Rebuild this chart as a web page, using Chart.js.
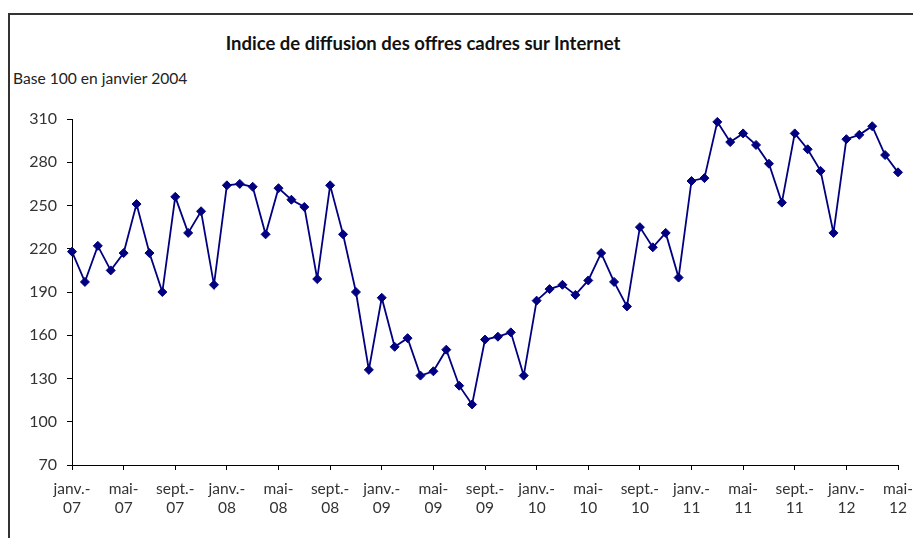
<!DOCTYPE html>
<html lang="fr">
<head>
<meta charset="utf-8">
<title>Indice de diffusion des offres cadres sur Internet</title>
<script src="https://cdn.jsdelivr.net/npm/chart.js@4.4.1/dist/chart.umd.min.js"></script>
<style>
  html, body { margin: 0; padding: 0; background: #fff; }
  #wrap { position: relative; width: 913px; height: 538px; overflow: hidden; font-family: Lato, 'Open Sans', sans-serif; color: #222; }
  #frame { position: absolute; left: 8px; top: 13px; width: 920px; height: 540px; border-top: 2px solid #333; border-left: 2px solid #333; }
  #title { position: absolute; left: 0; width: 846px; top: 32px; text-align: center; font-weight: bold; font-size: 18.5px; color: #111; }
  #subtitle { position: absolute; left: 13px; top: 69px; font-size: 15.6px; }
  #chart { position: absolute; left: 0; top: 0; }
</style>
</head>
<body>
<div id="wrap">
  <div id="frame"></div>
  <div id="title">Indice de diffusion des offres cadres sur Internet</div>
  <div id="subtitle">Base 100 en janvier 2004</div>
  <canvas id="chart" width="913" height="538"></canvas>
</div>
<script>
  // months from janv. 2007 to mai 2012
  const monthNames = ['janv.', 'févr.', 'mars', 'avr.', 'mai', 'juin', 'juil.', 'août', 'sept.', 'oct.', 'nov.', 'déc.'];
  const years = ['07', '08', '09', '10', '11', '12'];
  const lastMonthCount = 5;

  const categories = [];
  years.forEach(function (yr, i) {
    var n = i === years.length - 1 ? lastMonthCount : 12;
    for (var m = 0; m < n; m++) {
      categories.push([monthNames[m] + '-', yr]);
    }
  });

  const indexValues = [
    218, 197, 222, 205, 217, 251, 217, 190, 256, 231, 246, 195,
    264, 265, 263, 230, 262, 254, 249, 199, 264, 230, 190, 136,
    186, 152, 158, 132, 135, 150, 125, 112, 157, 159, 162, 132,
    184, 192, 195, 188, 198, 217, 197, 180, 235, 221, 231, 200,
    267, 269, 308, 294, 300, 292, 279, 252, 300, 289, 274, 231,
    296, 299, 305, 285, 273
  ];

  const yTicks = [70, 100, 130, 160, 190, 220, 250, 280, 310];
  const labelEvery = 4;

  const ctx = document.getElementById('chart');
  new Chart(ctx, {
    type: 'line',
    data: {
      labels: categories,
      datasets: [{
        label: 'Indice',
        data: indexValues,
        borderColor: '#000080',
        backgroundColor: '#000080',
        borderWidth: 1.8,
        tension: 0,
        pointStyle: 'rectRot',
        pointRadius: 4.5,
        pointHoverRadius: 4.5,
        pointBackgroundColor: '#000080',
        pointBorderColor: '#000080',
        pointBorderWidth: 1,
        clip: false
      }]
    },
    options: {
      responsive: false,
      animation: false,
      layout: {
        padding: { left: 0, right: 15, top: 119, bottom: 13 }
      },
      scales: {
        x: {
          type: 'category',
          offset: false,
          afterFit: function (scale) {
            scale.height = 60;
            // labels may hang over the edges, as in the original
            scale.paddingLeft = 0;
            scale.paddingRight = 0;
          },
          border: { display: true, color: '#000', width: 1 },
          grid: { drawOnChartArea: false, drawTicks: true, tickLength: 5, color: '#000' },
          ticks: {
            autoSkip: false,
            maxRotation: 0,
            padding: 9,
            color: '#333',
            font: { family: "Lato, 'Open Sans', sans-serif", size: 15.5, lineHeight: 1.25 },
            callback: function (value, index) {
              return index % labelEvery === 0 ? this.getLabelForValue(value) : null;
            }
          }
        },
        y: {
          min: yTicks[0],
          max: yTicks[yTicks.length - 1],
          afterFit: function (scale) { scale.width = 72; },
          afterBuildTicks: function (scale) {
            scale.ticks = yTicks.map(function (v) { return { value: v }; });
          },
          border: { display: true, color: '#000', width: 1 },
          grid: { drawOnChartArea: false, drawTicks: true, tickLength: 5, color: '#000' },
          ticks: {
            padding: 10,
            color: '#333',
            font: { family: "Lato, 'Open Sans', sans-serif", size: 16 }
          }
        }
      },
      plugins: {
        legend: { display: false },
        tooltip: { enabled: false }
      }
    }
  });
</script>
</body>
</html>
